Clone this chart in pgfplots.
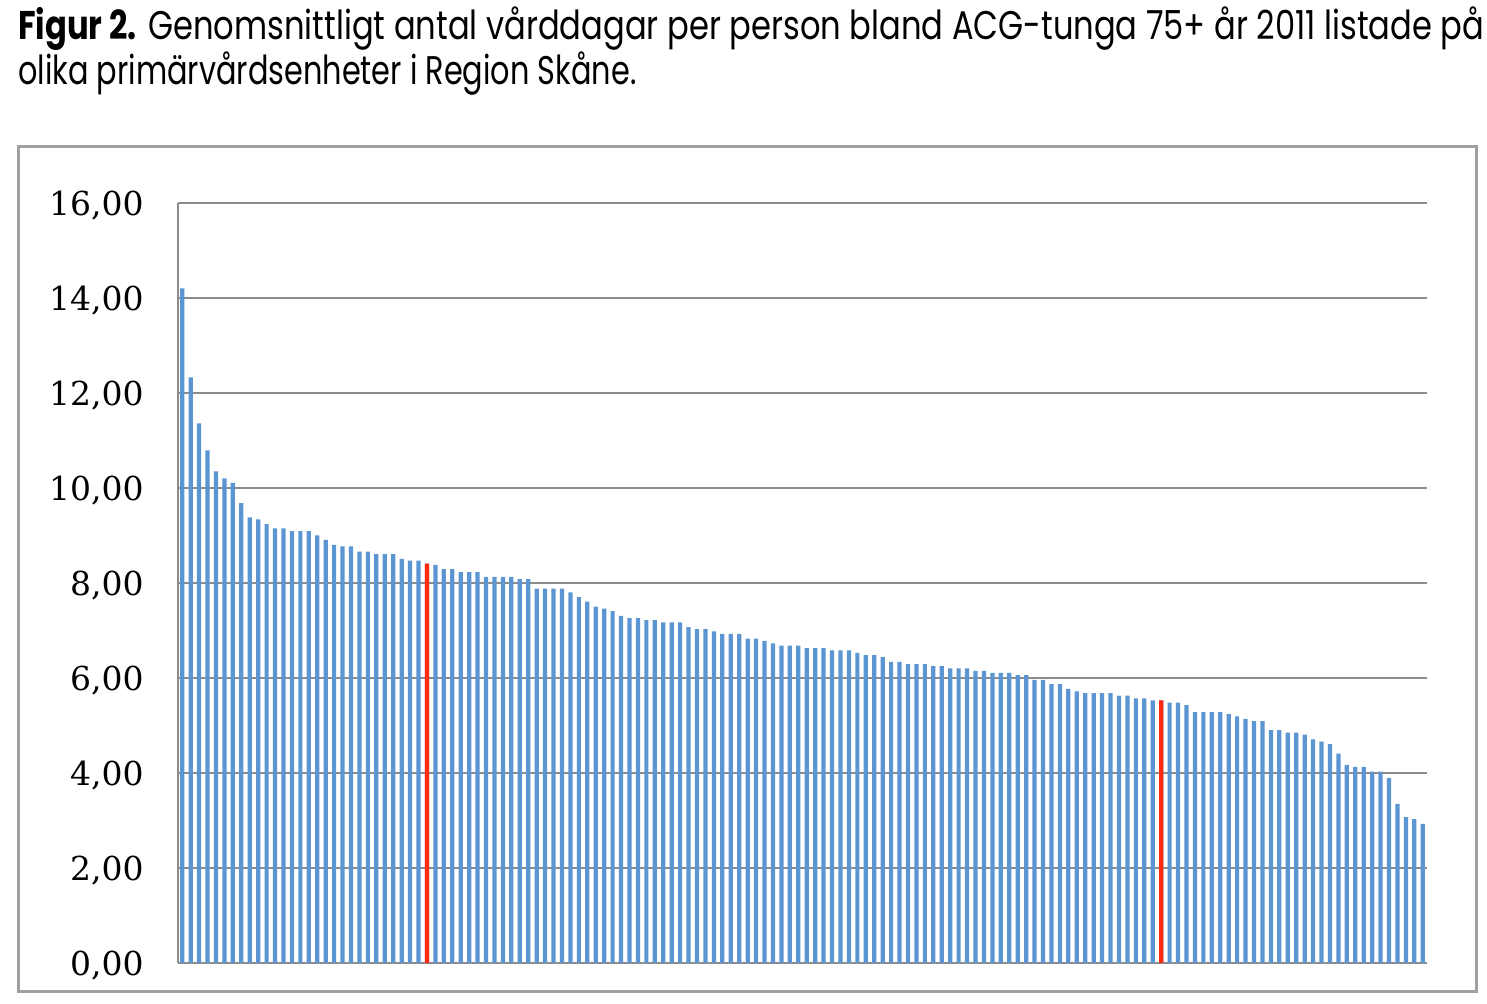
\documentclass[border=0pt]{standalone}
\usepackage{fontspec}
\setmainfont{Poppins}
\newfontfamily\tickfont{DejaVu Serif}
\usepackage{graphicx}
\usepackage{pgfplots}
\pgfplotsset{compat=1.18}
\usepackage{pgfplotstable}
\definecolor{barblue}{RGB}{91,150,210}
\definecolor{barred}{RGB}{255,42,16}
\definecolor{gridgray}{RGB}{140,140,140}
\definecolor{framegray}{RGB}{160,160,160}
\pgfplotstableread{
x y
0 14.20
1 12.33
2 11.36
3 10.79
4 10.35
5 10.20
6 10.11
7 9.68
8 9.38
9 9.34
10 9.24
11 9.15
12 9.15
13 9.09
14 9.09
15 9.09
16 9.00
17 8.91
18 8.80
19 8.77
20 8.77
21 8.66
22 8.66
23 8.61
24 8.61
25 8.61
26 8.51
27 8.47
28 8.47
29 8.41
30 8.38
31 8.29
32 8.29
33 8.23
34 8.23
35 8.23
36 8.13
37 8.13
38 8.13
39 8.13
40 8.08
41 8.08
42 7.88
43 7.88
44 7.88
45 7.88
46 7.80
47 7.70
48 7.61
49 7.50
50 7.46
51 7.41
52 7.31
53 7.26
54 7.26
55 7.22
56 7.22
57 7.17
58 7.17
59 7.17
60 7.07
61 7.03
62 7.03
63 6.98
64 6.93
65 6.93
66 6.93
67 6.83
68 6.83
69 6.78
70 6.73
71 6.68
72 6.68
73 6.68
74 6.63
75 6.63
76 6.63
77 6.58
78 6.58
79 6.58
80 6.53
81 6.48
82 6.48
83 6.44
84 6.34
85 6.34
86 6.29
87 6.29
88 6.29
89 6.25
90 6.25
91 6.20
92 6.20
93 6.20
94 6.15
95 6.15
96 6.11
97 6.11
98 6.11
99 6.06
100 6.06
101 5.96
102 5.96
103 5.87
104 5.87
105 5.77
106 5.72
107 5.68
108 5.68
109 5.68
110 5.68
111 5.63
112 5.63
113 5.57
114 5.57
115 5.53
116 5.53
117 5.48
118 5.48
119 5.43
120 5.28
121 5.28
122 5.28
123 5.28
124 5.24
125 5.19
126 5.14
127 5.09
128 5.09
129 4.90
130 4.90
131 4.85
132 4.85
133 4.81
134 4.71
135 4.66
136 4.61
137 4.41
138 4.17
139 4.13
140 4.13
141 4.03
142 4.03
143 3.89
144 3.35
145 3.07
146 3.03
147 2.93
}\maindata
\pgfplotstableread{
x y
29 8.41
116 5.53
}\reddata
\begin{document}
\begin{tikzpicture}
\useasboundingbox (0,0) rectangle (743.5pt,502pt);
\draw[framegray, line width=1.5pt] (9pt,6pt) rectangle (738pt,428.5pt);
\node[anchor=base west, inner sep=0pt] at (9pt,482pt)
  {\resizebox{733pt}{\height}{\fontsize{20}{24}\selectfont\textbf{Figur 2.} Genomsnittligt antal vårddagar per person bland ACG-tunga 75+ år 2011 listade på}};
\node[anchor=base west, inner sep=0pt] at (9pt,459.5pt)
  {\resizebox{309pt}{\height}{\fontsize{20}{24}\selectfont olika primärvårdsenheter i Region Skåne.}};
\begin{axis}[
  at={(89pt,20.5pt)}, anchor=south west,
  scale only axis, width=624.5pt, height=380pt,
  xmin=-0.5, xmax=147.5, ymin=0, ymax=16,
  clip=false,
  axis y line*=left, axis x line=none,
  y axis line style={draw=gridgray, line width=0.8pt, -},
  xtick=\empty,
  ytick={0,2,...,16},
  major tick length=0pt,
  ymajorgrids,
  grid style={gridgray, line width=1pt},
  yticklabel style={font=\tickfont\fontsize{16.5}{16.5}\selectfont, inner sep=0pt, anchor=east, xshift=-17pt, yshift=-1.5pt,
    /pgf/number format/.cd, fixed, fixed zerofill, precision=2, use comma, assume math mode=true},
  ybar, bar width=0.5, bar shift=0pt,
]
\addplot[fill=barblue, draw=none] table[x=x,y=y] {\maindata};
\addplot[fill=barred, draw=none] table[x=x,y=y] {\reddata};
\end{axis}
\end{tikzpicture}
\end{document}
